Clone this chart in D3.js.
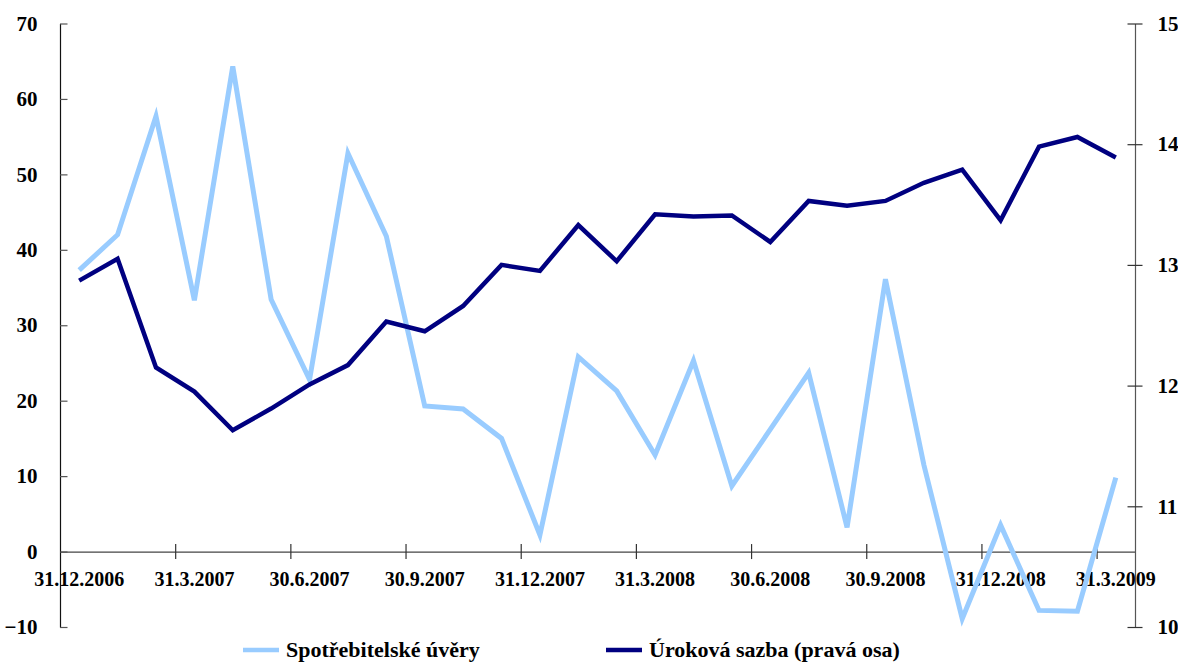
<!DOCTYPE html>
<html>
<head>
<meta charset="utf-8">
<script src="https://cdn.jsdelivr.net/npm/d3@7"></script>
<style>
  html, body { margin: 0; padding: 0; background: #fff; overflow: hidden; }
  svg { display: block; }
  svg text { font-family: "Liberation Serif", "Times New Roman", serif; font-weight: bold; fill: #000; }
</style>
</head>
<body>
<svg id="chart" width="1178" height="662" viewBox="0 0 1178 662"></svg>
<script>
// ---- data ----
const categories = [
  "31.12.2006","31.1.2007","28.2.2007","31.3.2007","30.4.2007","31.5.2007",
  "30.6.2007","31.7.2007","31.8.2007","30.9.2007","31.10.2007","30.11.2007",
  "31.12.2007","31.1.2008","29.2.2008","31.3.2008","30.4.2008","31.5.2008",
  "30.6.2008","31.7.2008","31.8.2008","30.9.2008","31.10.2008","30.11.2008",
  "31.12.2008","31.1.2009","28.2.2009","31.3.2009"
];
const consumerLoans = [
  37.3, 42.0, 57.7, 33.3, 64.3, 33.4, 22.8, 52.8, 41.8, 19.3,
  18.9, 15.0, 2.2, 25.8, 21.3, 12.8, 25.3, 8.7, 16.2, 23.7,
  3.2, 36.1, 11.5, -8.9, 3.5, -7.8, -7.9, 9.8
];
const interestRate = [
  12.87, 13.05, 12.15, 11.95, 11.63, 11.81, 12.01, 12.17, 12.53, 12.45,
  12.66, 13.00, 12.95, 13.33, 13.03, 13.42, 13.40, 13.41, 13.19, 13.53,
  13.49, 13.53, 13.68, 13.79, 13.37, 13.98, 14.06, 13.89
];
const leftTicks = [-10, 0, 10, 20, 30, 40, 50, 60, 70];
const rightTicks = [10, 11, 12, 13, 14, 15];
const seriesNames = ["Spotřebitelské úvěry", "Úroková sazba (pravá osa)"];
const labelEvery = 3;

// ---- layout ----
const svg = d3.select("#chart");
const L = 60, R = 1135, T = 23.5, B = 627;
const colLight = "#99CCFF", colDark = "#000080";

const x = d3.scaleBand().domain(d3.range(categories.length)).range([L, R]).padding(0);
const xc = i => x(i) + x.bandwidth() / 2;
const yL = d3.scaleLinear().domain([-10, 70]).range([B, T]);
const yR = d3.scaleLinear().domain([10, 15]).range([B, T]);
const fmtInt = d3.format("d");

// x axis line at y=0 with crossing tick marks on category boundaries
const xBoundary = d3.scaleLinear().domain([0, categories.length]).range([L, R]);
const boundaryTicks = d3.range(labelEvery, categories.length, labelEvery);
const gx = svg.append("g").attr("transform", `translate(0,${yL(0)})`);
gx.call(d3.axisBottom(xBoundary).tickValues(boundaryTicks).tickSize(7.5).tickSizeOuter(0).tickFormat(""));
gx.select(".domain").attr("stroke", "#444").attr("stroke-width", 1.2);
gx.selectAll(".tick line").attr("y1", -7.5).attr("stroke", "#333").attr("stroke-width", 1.2);

// x labels centred on every third category
const labelIdx = d3.range(0, categories.length, labelEvery);
svg.append("g").selectAll("text").data(labelIdx).join("text")
  .attr("x", i => xc(i)).attr("y", 586)
  .attr("text-anchor", "middle").attr("font-size", 20)
  .text(i => categories[i]);

// left axis
const gl = svg.append("g").attr("transform", `translate(${L},0)`);
gl.call(d3.axisLeft(yL).tickValues(leftTicks).tickFormat(fmtInt).tickSize(7.5).tickSizeOuter(0).tickPadding(15));
gl.select(".domain").attr("stroke", "#111").attr("stroke-width", 1.2);
gl.selectAll(".tick line").attr("x2", 7.5).attr("stroke", "#555").attr("stroke-width", 1.2);
gl.selectAll(".tick text").attr("font-size", 21).attr("fill", "#000");

// right axis
const gr = svg.append("g").attr("transform", `translate(${R},0)`);
gr.call(d3.axisRight(yR).tickValues(rightTicks).tickFormat(fmtInt).tickSize(7.5).tickSizeOuter(0).tickPadding(15));
gr.select(".domain").attr("stroke", "#555").attr("stroke-width", 1.2);
gr.selectAll(".tick line").attr("x1", -7.5).attr("stroke", "#333").attr("stroke-width", 1.2);
gr.selectAll(".tick text").attr("font-size", 21).attr("fill", "#000");

// lines
const lineL = d3.line().x((d, i) => xc(i)).y(d => yL(d));
const lineR = d3.line().x((d, i) => xc(i)).y(d => yR(d));
svg.append("path").datum(consumerLoans).attr("d", lineL)
  .attr("fill", "none").attr("stroke", colLight).attr("stroke-width", 5).attr("stroke-linejoin", "miter");
svg.append("path").datum(interestRate).attr("d", lineR)
  .attr("fill", "none").attr("stroke", colDark).attr("stroke-width", 4.5).attr("stroke-linejoin", "miter");

// legend
const legend = [
  { name: seriesNames[0], color: colLight, x0: 243 },
  { name: seriesNames[1], color: colDark, x0: 606 }
];
const lg = svg.append("g").selectAll("g").data(legend).join("g");
lg.append("line").attr("x1", d => d.x0).attr("x2", d => d.x0 + 36)
  .attr("y1", 650).attr("y2", 650).attr("stroke", d => d.color).attr("stroke-width", 4.5);
lg.append("text").attr("x", d => d.x0 + 43).attr("y", 656.5)
  .attr("font-size", 22).text(d => d.name);
</script>
</body>
</html>
